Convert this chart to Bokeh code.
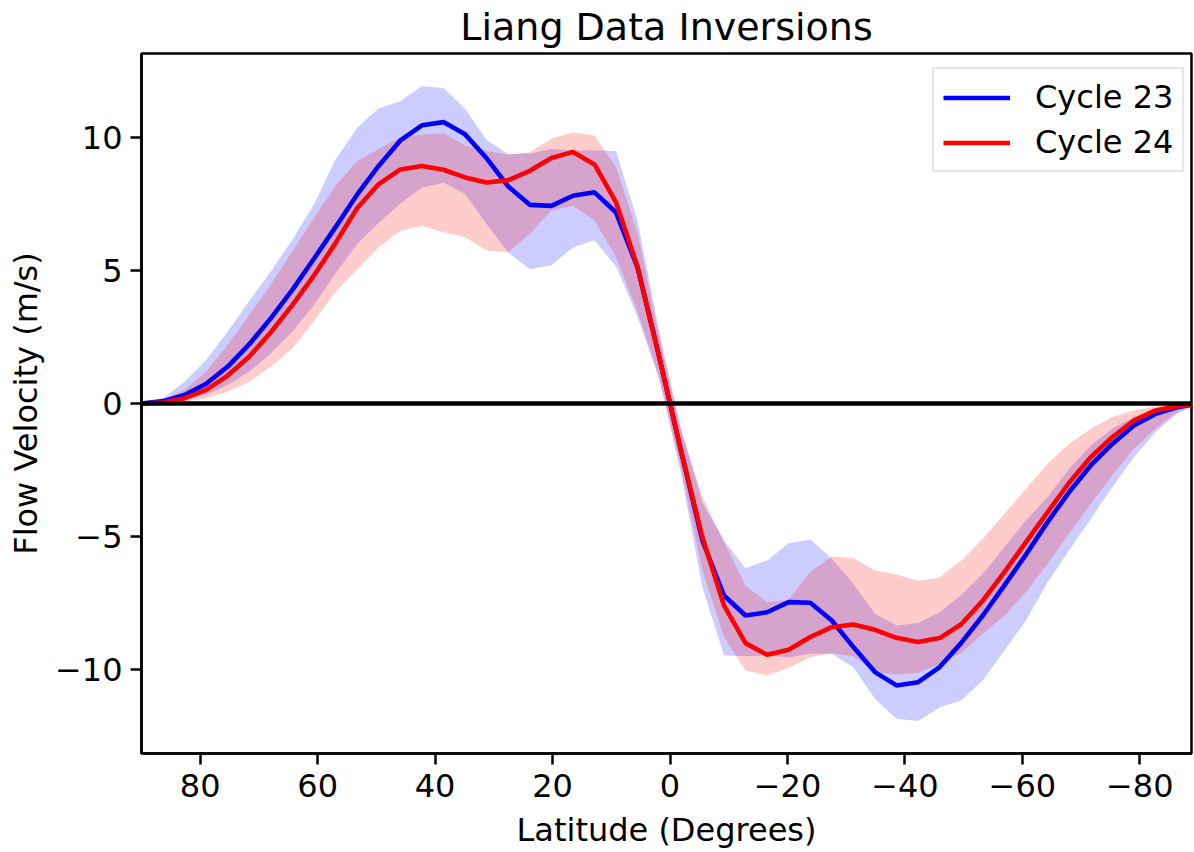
from bokeh.plotting import figure
from bokeh.models import Range1d, FixedTicker, Legend, LegendItem, Span
from bokeh.embed import file_html
from bokeh.resources import INLINE
import numpy as np

# Latitude grid (degrees), 50 samples from 90 to -90
latitude = np.linspace(90, -90, 50)

cycle23 = [0.0, 0.09, 0.32, 0.74, 1.39, 2.23, 3.21, 4.28, 5.45, 6.64,
           7.86, 8.94, 9.89, 10.46, 10.58, 10.12, 9.22, 8.16, 7.47, 7.43,
           7.81, 7.94, 7.18, 5.10, 1.75, -1.75, -5.15, -7.22, -7.97, -7.85,
           -7.47, -7.49, -8.16, -9.16, -10.10, -10.60, -10.48, -9.91, -9.00, -7.97,
           -6.84, -5.68, -4.46, -3.33, -2.33, -1.52, -0.83, -0.39, -0.14, 0.0]
cycle23_upper = [0.0, 0.2, 0.82, 1.64, 2.71, 3.86, 4.97, 6.17, 7.49, 9.18,
                 10.37, 11.10, 11.36, 11.93, 11.86, 11.08, 9.90, 9.38, 9.40, 9.57,
                 9.51, 9.52, 9.48, 6.85, 2.7, -0.9, -3.71, -5.15, -6.19, -5.90,
                 -5.25, -5.11, -5.84, -6.78, -7.91, -8.35, -8.25, -7.85, -7.2, -6.4,
                 -5.4, -4.4, -3.52, -2.46, -1.58, -0.95, -0.51, -0.23, -0.08, 0.0]
cycle23_lower = [0.0, 0.0, 0.13, 0.32, 0.70, 1.20, 1.89, 2.71, 3.7, 4.9,
                 6.0, 6.8, 7.52, 8.11, 8.30, 7.88, 6.74, 5.68, 5.05, 5.20,
                 5.87, 6.14, 5.15, 3.25, 0.9, -2.6, -6.90, -9.47, -9.50, -9.47,
                 -9.55, -9.41, -9.41, -9.92, -11.10, -11.85, -11.94, -11.42, -11.17, -10.41,
                 -9.29, -8.16, -6.72, -5.53, -4.34, -3.15, -2.02, -1.08, -0.39, 0.0]

cycle24 = [0.0, 0.04, 0.2, 0.51, 1.05, 1.77, 2.68, 3.71, 4.82, 6.04,
           7.35, 8.25, 8.80, 8.93, 8.79, 8.50, 8.31, 8.40, 8.75, 9.23,
           9.46, 8.99, 7.56, 5.12, 1.75, -1.75, -5.03, -7.59, -9.01, -9.45,
           -9.26, -8.78, -8.41, -8.31, -8.51, -8.81, -8.97, -8.82, -8.30, -7.41,
           -6.34, -5.21, -4.09, -2.98, -2.02, -1.27, -0.64, -0.26, -0.10, 0.0]
cycle24_upper = [0.0, 0.13, 0.51, 1.20, 2.21, 3.34, 4.47, 5.73, 6.98, 8.20,
                 9.11, 9.57, 10.01, 10.11, 10.16, 9.70, 9.49, 9.35, 9.45, 9.95,
                 10.20, 10.08, 8.88, 6.4, 2.5, -1.0, -3.52, -5.21, -6.84, -7.47,
                 -7.38, -6.34, -5.74, -5.82, -6.28, -6.43, -6.66, -6.54, -5.90, -5.09,
                 -4.15, -3.21, -2.27, -1.52, -0.95, -0.51, -0.26, -0.10, -0.03, 0.0]
cycle24_lower = [0.0, 0.0, 0.07, 0.2, 0.45, 0.82, 1.39, 2.08, 3.1, 4.2,
                 5.05, 5.88, 6.50, 6.67, 6.44, 6.25, 5.75, 5.69, 6.38, 7.26,
                 7.44, 6.88, 5.50, 3.45, 1.0, -2.4, -6.28, -8.78, -10.04, -10.23,
                 -9.94, -9.54, -9.39, -9.5, -10.10, -10.19, -10.12, -9.8, -9.38, -8.66,
                 -7.97, -7.09, -6.03, -4.90, -3.77, -2.71, -1.70, -0.95, -0.33, 0.0]

x_ticks = [80, 60, 40, 20, 0, -20, -40, -60, -80]
y_ticks = [-10, -5, 0, 5, 10]

FONT = "DejaVu Sans"

p = figure(width=1194, height=852,
           x_range=Range1d(90, -88.8), y_range=Range1d(-13.16, 13.16),
           output_backend="svg", toolbar_location=None,
           min_border_left=141, min_border_right=3,
           min_border_top=53, min_border_bottom=99,
           title="Liang Data Inversions")

p.background_fill_color = "white"
p.border_fill_color = "white"
p.outline_line_color = "black"
p.outline_line_width = 2.5
p.xgrid.visible = False
p.ygrid.visible = False

p.title.text_font = FONT
p.title.text_font_size = "38px"
p.title.text_font_style = "normal"
p.title.align = "center"
p.title.offset = 3
p.title.text_color = "black"
p.title.text_line_height = 0.75
p.title.vertical_align = "top"
p.title.standoff = 6

for ax in (p.xaxis[0], p.yaxis[0]):
    ax.axis_line_width = 2.5
    ax.major_tick_line_width = 2.5
    ax.major_tick_out = 11
    ax.major_tick_in = 0
    ax.minor_tick_line_color = None
    ax.major_label_text_font = FONT
    ax.major_label_text_font_size = "32px"
    ax.major_label_text_color = "black"
    ax.axis_label_text_font = FONT
    ax.axis_label_text_font_size = "32px"
    ax.axis_label_text_font_style = "normal"
    ax.axis_label_text_color = "black"

p.xaxis.ticker = FixedTicker(ticks=x_ticks)
p.yaxis.ticker = FixedTicker(ticks=y_ticks)
p.xaxis.major_label_overrides = {float(t): (str(t).replace("-", "\u2212")) for t in x_ticks}
p.yaxis.major_label_overrides = {float(t): (str(t).replace("-", "\u2212")) for t in y_ticks}
p.xaxis.axis_label = "Latitude (Degrees)"
p.yaxis.axis_label = "Flow Velocity (m/s)"
p.xaxis.major_label_standoff = 9
p.yaxis.major_label_standoff = 8
p.xaxis.axis_label_standoff = 11
p.yaxis.axis_label_standoff = 7

p.varea(x=latitude, y1=cycle23_lower, y2=cycle23_upper,
        fill_color="#0000ff", fill_alpha=0.2)
p.varea(x=latitude, y1=cycle24_lower, y2=cycle24_upper,
        fill_color="#ff0000", fill_alpha=0.2)
l23 = p.line(latitude, cycle23, line_color="#0000ff", line_width=4.6)
l24 = p.line(latitude, cycle24, line_color="#ff0000", line_width=4.6)

zero = Span(location=0, dimension="width", line_color="black", line_width=4.3)
p.add_layout(zero)

legend = Legend(items=[LegendItem(label="Cycle 23", renderers=[l23]),
                       LegendItem(label="Cycle 24", renderers=[l24])],
                location=(791, 581))
legend.label_text_font = FONT
legend.label_text_font_size = "32px"
legend.label_text_color = "black"
legend.glyph_width = 67
legend.glyph_height = 37
legend.label_height = 37
legend.label_standoff = 25
legend.padding = 9
legend.spacing = 7
legend.margin = 0
legend.border_line_color = "#cccccc"
legend.border_line_width = 2.5
legend.background_fill_alpha = 0.8
p.add_layout(legend)

open("out.html", "w").write(file_html(p, INLINE))
